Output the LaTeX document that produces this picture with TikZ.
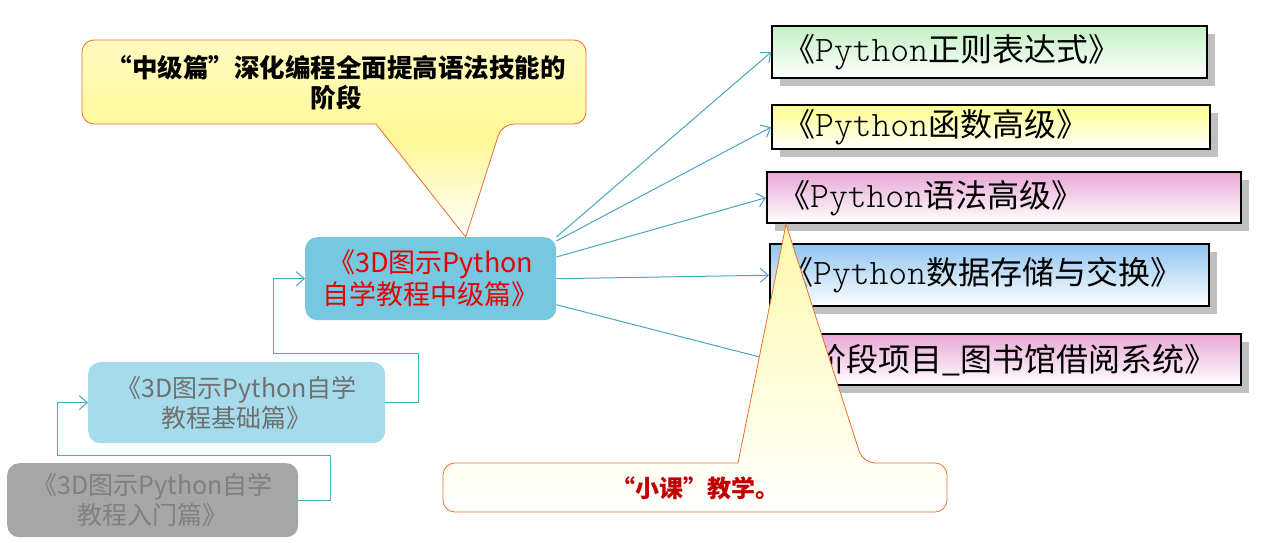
\documentclass[tikz,border=0pt]{standalone}
\usepackage{fontspec}
\newfontfamily\cjk{Noto Sans CJK SC}
\newfontfamily\mono{lmmonolt10-regular.otf}[Scale=1.12]
\usetikzlibrary{arrows.meta,shadows}

\definecolor{linkteal}{RGB}{75,165,195}
\definecolor{midblue}{RGB}{118,200,224}
\definecolor{basicblue}{RGB}{165,219,235}
\definecolor{introgray}{RGB}{166,166,166}
\definecolor{stagered}{RGB}{230,0,0}
\definecolor{basicgray}{RGB}{112,112,112}
\definecolor{introtext}{RGB}{128,128,128}
\definecolor{notered}{RGB}{192,0,0}
\definecolor{noteorange}{RGB}{232,112,40}
\definecolor{noteyellow}{RGB}{255,248,150}
\definecolor{shadowgray}{RGB}{192,192,192}
\definecolor{topgreen}{RGB}{196,240,196}
\definecolor{topyellow}{RGB}{255,255,140}
\definecolor{toppink}{RGB}{232,168,214}
\definecolor{topblue}{RGB}{144,196,240}

\newcommand\py{{\mono Python}}

\begin{document}
\begin{tikzpicture}[x=1pt,y=-1pt,
  stage/.style={rounded corners=12pt, align=center, inner sep=0pt, anchor=north west},
  topic/.style={draw=black, line width=2.4pt, anchor=north west, inner xsep=11pt, inner ysep=0pt,
    align=left, font=\cjk\fontsize{32}{36}\selectfont, bottom color=white,
    drop shadow={shadow xshift=8pt, shadow yshift=-8pt, fill=shadowgray, opacity=1}},
  conn/.style={draw=linkteal, line width=1pt, -{Straight Barb[length=8pt,width=14pt]}},
  callout/.style={draw=noteorange, line width=0.8pt}
]
\useasboundingbox (0,0) rectangle (1271,542);

% the three books
\node[stage, fill=midblue, text=stagered, minimum width=251pt, minimum height=83pt,
  font=\cjk\fontsize{27}{32}\selectfont] (mid) at (305,237) {《3D图示Python\\自学教程中级篇》};
\node[stage, fill=basicblue, text=basicgray, minimum width=297pt, minimum height=81pt,
  font=\cjk\fontsize{25}{30}\selectfont] (basic) at (88,362) {《3D图示Python自学\\教程基础篇》};
\node[stage, fill=introgray, text=introtext, minimum width=291pt, minimum height=74pt,
  font=\cjk\fontsize{25}{30}\selectfont] (intro) at (7,463) {《3D图示Python自学\\教程入门篇》};

\draw[conn] (intro.east) -- ++(32,0) -- ++(0,-45) -| ([xshift=-31pt]basic.west) -- (basic.west);
\draw[conn] (basic.east) -- ++(33,0) -- ++(0,-49) -| ([xshift=-32pt]mid.west) -- (mid.west);

% the small courses
\node[topic, top color=topgreen, text width=413pt, minimum height=52pt] (regex) at (771,25) {《\py 正则表达式》};
\node[topic, top color=topyellow, text width=416pt, minimum height=44pt] (func) at (771,104) {《\py 函数高级》};
\node[topic, top color=toppink, text width=452pt, minimum height=51pt] (gram) at (766,171) {《\py 语法高级》};
\node[topic, top color=topblue, text width=417pt, minimum height=62pt] (store) at (769,243) {《\py 数据存储与交换》};
\node[topic, top color=toppink, text width=448pt, minimum height=51pt] (proj) at (770,333) {《阶段项目\_图书馆借阅系统》};

\foreach \b/\a/\d in {regex/north east/0, func/north east/4, gram/north east/20, store/east/0, proj/east/26}
  \draw[conn] ([yshift=-\d pt]mid.\a) -- (\b.west);

% callouts
\draw[callout, top color=noteyellow!60!white, bottom color=white, middle color=noteyellow]
  (376,124) [rounded corners=12pt] -- (82,124) -- (82,40) -- (586,40) -- (586,124) -- (502,124)
  [sharp corners] -- ([xshift=35pt]mid.north) -- cycle;
\node[font=\cjk\bfseries\fontsize{25.5}{30}\selectfont, align=center] (aimnote) at (336,83)
  {“中级篇”深化编程全面提高语法技能的\\阶段};

\draw[callout, top color=noteyellow!80!white, bottom color=white]
  (738,463) [rounded corners=12pt] -- (443,463) -- (443,512) -- (947,512) -- (947,463) -- (863,463)
  [sharp corners] -- ([xshift=20pt]gram.south west) -- cycle;
\node[font=\cjk\bfseries\fontsize{24}{28}\selectfont, text=notered] (classnote) at (695,488) {“小课”教学。};
\end{tikzpicture}
\end{document}
